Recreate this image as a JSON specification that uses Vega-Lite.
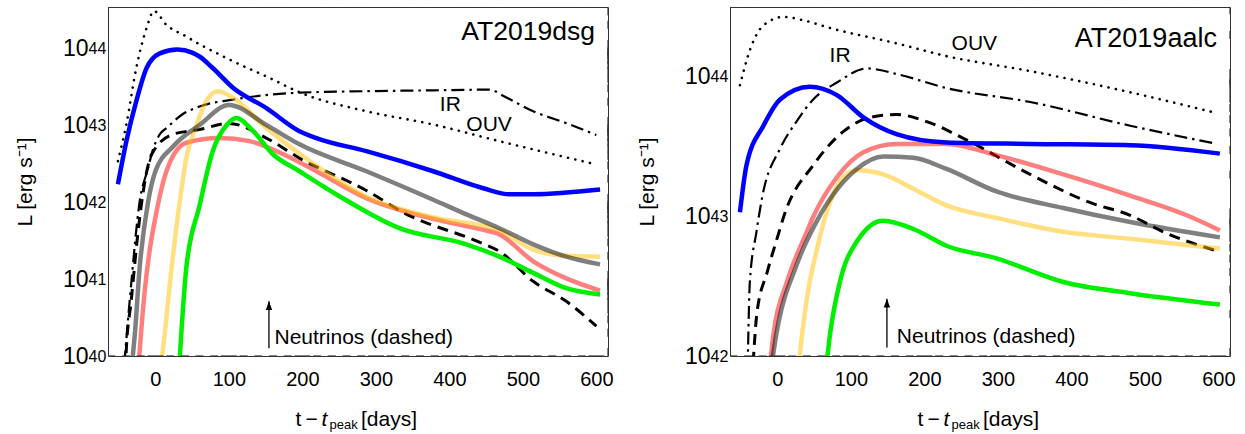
{
  "$schema": "https://vega.github.io/schema/vega-lite/v6.json",
  "padding": {"left": 13, "top": 6, "right": 5, "bottom": 0},
  "bounds": "flush",
  "spacing": 122,
  "config": {
    "view": {"stroke": "#333", "strokeWidth": 1},
    "font": "Liberation Sans",
    "axis": {"labelColor": "#000", "titleColor": "#000", "labelFont": "Liberation Sans", "titleFont": "Liberation Sans", "grid": false, "domain": false}
  },
  "datasets": {
    "dsg": [
      {"c": "OUV", "t": -51, "L": 3.39e42}, {"c": "OUV", "t": -39.5, "L": 1.02e43}, {"c": "OUV", "t": -26, "L": 5.5e43}, {"c": "OUV", "t": -12, "L": 1.82e44}, {"c": "OUV", "t": -2, "L": 3.02e44}, {"c": "OUV", "t": 15, "L": 2.0e44}, {"c": "OUV", "t": 42, "L": 1.41e44}, {"c": "OUV", "t": 60, "L": 1.12e44}, {"c": "OUV", "t": 80, "L": 8.91e43}, {"c": "OUV", "t": 105, "L": 6.76e43}, {"c": "OUV", "t": 151, "L": 4.27e43}, {"c": "OUV", "t": 200, "L": 2.57e43}, {"c": "OUV", "t": 287, "L": 1.51e43}, {"c": "OUV", "t": 377, "L": 1.02e43}, {"c": "OUV", "t": 468, "L": 6.17e42}, {"c": "OUV", "t": 599, "L": 3.09e42},
      {"c": "IR", "t": -42.3, "L": 7.94e39}, {"c": "IR", "t": -33, "L": 8.51e40}, {"c": "IR", "t": -21.5, "L": 1.0e42}, {"c": "IR", "t": -10, "L": 2.75e42}, {"c": "IR", "t": -4, "L": 4.57e42}, {"c": "IR", "t": 6, "L": 7.59e42}, {"c": "IR", "t": 15, "L": 9.12e42}, {"c": "IR", "t": 37, "L": 1.38e43}, {"c": "IR", "t": 60, "L": 1.74e43}, {"c": "IR", "t": 106, "L": 2.14e43}, {"c": "IR", "t": 196, "L": 2.63e43}, {"c": "IR", "t": 287, "L": 2.75e43}, {"c": "IR", "t": 378, "L": 2.82e43}, {"c": "IR", "t": 455, "L": 2.88e43}, {"c": "IR", "t": 475, "L": 2.34e43}, {"c": "IR", "t": 514, "L": 1.51e43}, {"c": "IR", "t": 560, "L": 1.05e43}, {"c": "IR", "t": 600, "L": 7.41e42},
      {"c": "nu", "t": -41, "L": 6.31e39}, {"c": "nu", "t": -39.5, "L": 1.26e40}, {"c": "nu", "t": -33, "L": 5.13e40}, {"c": "nu", "t": -24, "L": 3.8e41}, {"c": "nu", "t": -15, "L": 1.7e42}, {"c": "nu", "t": -5, "L": 4.17e42}, {"c": "nu", "t": 24, "L": 7.59e42}, {"c": "nu", "t": 60, "L": 8.71e42}, {"c": "nu", "t": 100, "L": 1.05e43}, {"c": "nu", "t": 151, "L": 6.76e42}, {"c": "nu", "t": 196, "L": 3.72e42}, {"c": "nu", "t": 287, "L": 1.41e42}, {"c": "nu", "t": 340, "L": 7.08e41}, {"c": "nu", "t": 443, "L": 2.95e41}, {"c": "nu", "t": 468, "L": 2.29e41}, {"c": "nu", "t": 514, "L": 9.33e40}, {"c": "nu", "t": 559, "L": 5.13e40}, {"c": "nu", "t": 600, "L": 2.45e40},
      {"c": "red", "t": -23.5, "L": 6.31e39}, {"c": "red", "t": -15, "L": 6.31e40}, {"c": "red", "t": -8, "L": 2.29e41}, {"c": "red", "t": 0, "L": 6.31e41}, {"c": "red", "t": 15, "L": 2.51e42}, {"c": "red", "t": 42, "L": 5.89e42}, {"c": "red", "t": 87, "L": 6.76e42}, {"c": "red", "t": 128, "L": 6.17e42}, {"c": "red", "t": 174, "L": 4.17e42}, {"c": "red", "t": 219, "L": 2.51e42}, {"c": "red", "t": 287, "L": 1.12e42}, {"c": "red", "t": 378, "L": 6.03e41}, {"c": "red", "t": 440, "L": 4.47e41}, {"c": "red", "t": 468, "L": 3.8e41}, {"c": "red", "t": 514, "L": 1.7e41}, {"c": "red", "t": 559, "L": 1.02e41}, {"c": "red", "t": 605, "L": 7.08e40},
      {"c": "orange", "t": 6.5, "L": 6.31e39}, {"c": "orange", "t": 10, "L": 1.15e40}, {"c": "orange", "t": 22, "L": 1.38e41}, {"c": "orange", "t": 33, "L": 1.0e42}, {"c": "orange", "t": 42, "L": 3.72e42}, {"c": "orange", "t": 56, "L": 1.0e43}, {"c": "orange", "t": 69, "L": 2.04e43}, {"c": "orange", "t": 85, "L": 2.75e43}, {"c": "orange", "t": 106, "L": 2.24e43}, {"c": "orange", "t": 151, "L": 9.12e42}, {"c": "orange", "t": 200, "L": 3.98e42}, {"c": "orange", "t": 287, "L": 1.17e42}, {"c": "orange", "t": 378, "L": 6.31e41}, {"c": "orange", "t": 468, "L": 4.27e41}, {"c": "orange", "t": 514, "L": 2.4e41}, {"c": "orange", "t": 559, "L": 2.0e41}, {"c": "orange", "t": 605, "L": 1.95e41},
      {"c": "gray", "t": -33, "L": 6.31e39}, {"c": "gray", "t": -28, "L": 1.91e40}, {"c": "gray", "t": -21.5, "L": 1.38e41}, {"c": "gray", "t": -10, "L": 1.0e42}, {"c": "gray", "t": 0, "L": 2.51e42}, {"c": "gray", "t": 24, "L": 5.25e42}, {"c": "gray", "t": 60, "L": 1.0e43}, {"c": "gray", "t": 100, "L": 1.82e43}, {"c": "gray", "t": 151, "L": 1.0e43}, {"c": "gray", "t": 196, "L": 5.62e42}, {"c": "gray", "t": 287, "L": 2.51e42}, {"c": "gray", "t": 378, "L": 1.07e42}, {"c": "gray", "t": 423, "L": 6.92e41}, {"c": "gray", "t": 468, "L": 4.57e41}, {"c": "gray", "t": 514, "L": 2.82e41}, {"c": "gray", "t": 559, "L": 1.95e41}, {"c": "gray", "t": 605, "L": 1.55e41},
      {"c": "green", "t": 32, "L": 6.31e39}, {"c": "green", "t": 42, "L": 1.38e41}, {"c": "green", "t": 60, "L": 8.91e41}, {"c": "green", "t": 78, "L": 4.57e42}, {"c": "green", "t": 97, "L": 1.0e43}, {"c": "green", "t": 110, "L": 1.23e43}, {"c": "green", "t": 133, "L": 8.32e42}, {"c": "green", "t": 160, "L": 4.17e42}, {"c": "green", "t": 196, "L": 2.51e42}, {"c": "green", "t": 255, "L": 1.12e42}, {"c": "green", "t": 332, "L": 4.57e41}, {"c": "green", "t": 423, "L": 2.82e41}, {"c": "green", "t": 468, "L": 1.95e41}, {"c": "green", "t": 514, "L": 1.2e41}, {"c": "green", "t": 559, "L": 7.59e40}, {"c": "green", "t": 605, "L": 6.31e40},
      {"c": "blue", "t": -51, "L": 1.7e42}, {"c": "blue", "t": -39.5, "L": 6.17e42}, {"c": "blue", "t": -26, "L": 2.04e43}, {"c": "blue", "t": -12, "L": 5.5e43}, {"c": "blue", "t": 6, "L": 8.51e43}, {"c": "blue", "t": 30, "L": 9.55e43}, {"c": "blue", "t": 50, "L": 8.71e43}, {"c": "blue", "t": 60, "L": 7.76e43}, {"c": "blue", "t": 78, "L": 5.5e43}, {"c": "blue", "t": 106, "L": 3.02e43}, {"c": "blue", "t": 151, "L": 1.66e43}, {"c": "blue", "t": 196, "L": 8.32e42}, {"c": "blue", "t": 219, "L": 6.76e42}, {"c": "blue", "t": 287, "L": 4.57e42}, {"c": "blue", "t": 378, "L": 2.51e42}, {"c": "blue", "t": 446, "L": 1.51e42}, {"c": "blue", "t": 482, "L": 1.26e42}, {"c": "blue", "t": 514, "L": 1.26e42}, {"c": "blue", "t": 605, "L": 1.45e42}
    ],
    "aalc": [
      {"c": "OUV", "t": -51, "L": 8.71e43}, {"c": "OUV", "t": -37, "L": 1.58e44}, {"c": "OUV", "t": -19, "L": 2.34e44}, {"c": "OUV", "t": 8, "L": 2.69e44}, {"c": "OUV", "t": 40, "L": 2.51e44}, {"c": "OUV", "t": 72, "L": 2.24e44}, {"c": "OUV", "t": 162, "L": 1.74e44}, {"c": "OUV", "t": 230, "L": 1.41e44}, {"c": "OUV", "t": 344, "L": 1.1e44}, {"c": "OUV", "t": 480, "L": 7.76e43}, {"c": "OUV", "t": 598, "L": 5.5e43},
      {"c": "IR", "t": -40.5, "L": 7.94e41}, {"c": "IR", "t": -37.5, "L": 3.39e42}, {"c": "IR", "t": -28.5, "L": 7.76e42}, {"c": "IR", "t": -21, "L": 1.35e43}, {"c": "IR", "t": 4, "L": 3.09e43}, {"c": "IR", "t": 26, "L": 4.79e43}, {"c": "IR", "t": 49, "L": 6.92e43}, {"c": "IR", "t": 81, "L": 9.12e43}, {"c": "IR", "t": 122, "L": 1.15e44}, {"c": "IR", "t": 162, "L": 1.05e44}, {"c": "IR", "t": 230, "L": 8.32e43}, {"c": "IR", "t": 344, "L": 6.61e43}, {"c": "IR", "t": 480, "L": 4.47e43}, {"c": "IR", "t": 598, "L": 3.31e43},
      {"c": "nu", "t": -33, "L": 8.91e41}, {"c": "nu", "t": -28, "L": 2.0e42}, {"c": "nu", "t": -14, "L": 3.98e42}, {"c": "nu", "t": 0, "L": 7.08e42}, {"c": "nu", "t": 10, "L": 1.05e43}, {"c": "nu", "t": 49, "L": 2.34e43}, {"c": "nu", "t": 90, "L": 4.07e43}, {"c": "nu", "t": 126, "L": 5.13e43}, {"c": "nu", "t": 162, "L": 5.37e43}, {"c": "nu", "t": 208, "L": 4.68e43}, {"c": "nu", "t": 253, "L": 3.63e43}, {"c": "nu", "t": 344, "L": 2.0e43}, {"c": "nu", "t": 425, "L": 1.26e43}, {"c": "nu", "t": 480, "L": 1.02e43}, {"c": "nu", "t": 525, "L": 7.76e42}, {"c": "nu", "t": 600, "L": 5.62e42},
      {"c": "red", "t": -11, "L": 7.94e41}, {"c": "red", "t": -5, "L": 1.48e42}, {"c": "red", "t": 13, "L": 3.39e42}, {"c": "red", "t": 40, "L": 7.76e42}, {"c": "red", "t": 49, "L": 1.0e43}, {"c": "red", "t": 81, "L": 1.91e43}, {"c": "red", "t": 117, "L": 2.88e43}, {"c": "red", "t": 162, "L": 3.31e43}, {"c": "red", "t": 230, "L": 3.31e43}, {"c": "red", "t": 298, "L": 2.75e43}, {"c": "red", "t": 389, "L": 2.0e43}, {"c": "red", "t": 480, "L": 1.41e43}, {"c": "red", "t": 557, "L": 1.02e43}, {"c": "red", "t": 602, "L": 7.94e42},
      {"c": "orange", "t": 28, "L": 7.94e41}, {"c": "orange", "t": 40, "L": 2.57e42}, {"c": "orange", "t": 54, "L": 5.89e42}, {"c": "orange", "t": 70, "L": 1.2e43}, {"c": "orange", "t": 85, "L": 1.78e43}, {"c": "orange", "t": 108, "L": 2.14e43}, {"c": "orange", "t": 144, "L": 2.0e43}, {"c": "orange", "t": 185, "L": 1.58e43}, {"c": "orange", "t": 230, "L": 1.2e43}, {"c": "orange", "t": 298, "L": 9.77e42}, {"c": "orange", "t": 389, "L": 7.76e42}, {"c": "orange", "t": 480, "L": 6.92e42}, {"c": "orange", "t": 602, "L": 5.89e42},
      {"c": "gray", "t": -9, "L": 7.94e41}, {"c": "gray", "t": -1, "L": 1.48e42}, {"c": "gray", "t": 26, "L": 4.47e42}, {"c": "gray", "t": 58, "L": 1.02e43}, {"c": "gray", "t": 108, "L": 2.19e43}, {"c": "gray", "t": 144, "L": 2.69e43}, {"c": "gray", "t": 185, "L": 2.63e43}, {"c": "gray", "t": 230, "L": 2.19e43}, {"c": "gray", "t": 298, "L": 1.51e43}, {"c": "gray", "t": 389, "L": 1.15e43}, {"c": "gray", "t": 480, "L": 9.12e42}, {"c": "gray", "t": 602, "L": 7.08e42},
      {"c": "green", "t": 66, "L": 7.94e41}, {"c": "green", "t": 72, "L": 1.48e42}, {"c": "green", "t": 85, "L": 3.39e42}, {"c": "green", "t": 108, "L": 6.61e42}, {"c": "green", "t": 144, "L": 9.33e42}, {"c": "green", "t": 185, "L": 8.13e42}, {"c": "green", "t": 230, "L": 6.17e42}, {"c": "green", "t": 298, "L": 5.01e42}, {"c": "green", "t": 389, "L": 3.39e42}, {"c": "green", "t": 480, "L": 2.82e42}, {"c": "green", "t": 602, "L": 2.34e42},
      {"c": "blue", "t": -51, "L": 1.07e43}, {"c": "blue", "t": -42, "L": 2.34e43}, {"c": "blue", "t": -19, "L": 4.47e43}, {"c": "blue", "t": 4, "L": 6.92e43}, {"c": "blue", "t": 44, "L": 8.51e43}, {"c": "blue", "t": 81, "L": 7.41e43}, {"c": "blue", "t": 117, "L": 5.13e43}, {"c": "blue", "t": 162, "L": 3.89e43}, {"c": "blue", "t": 230, "L": 3.39e43}, {"c": "blue", "t": 344, "L": 3.31e43}, {"c": "blue", "t": 480, "L": 3.24e43}, {"c": "blue", "t": 602, "L": 2.82e43}
    ],
    "dsgNotes": [
      {"k": "curve", "txt": "IR", "t": 387, "L": 1.51e43},
      {"k": "curve", "txt": "OUV", "t": 423, "L": 8.32e42},
      {"k": "name", "txt": "AT2019dsg", "t": 598, "L": 1.29e44},
      {"k": "nu", "txt": "Neutrinos (dashed)", "t": 162, "L": 1.42e40}
    ],
    "dsgArrow": [{"t": 154.5, "lo": 1.26e40, "hi": 5.13e40}],
    "aalcNotes": [
      {"k": "curve", "txt": "IR", "t": 71, "L": 1.28e44},
      {"k": "curve", "txt": "OUV", "t": 237, "L": 1.55e44},
      {"k": "name", "txt": "AT2019aalc", "t": 598, "L": 1.64e44},
      {"k": "nu", "txt": "Neutrinos (dashed)", "t": 162.5, "L": 1.23e42}
    ],
    "aalcArrow": [{"t": 149, "lo": 1.15e42, "hi": 2.57e42}],
    "tTicks": [
      {"v": -60, "major": false}, {"v": -40, "major": false}, {"v": -20, "major": false}, {"v": 0, "major": true}, {"v": 20, "major": false}, {"v": 40, "major": false}, {"v": 60, "major": false}, {"v": 80, "major": false},
      {"v": 100, "major": true}, {"v": 120, "major": false}, {"v": 140, "major": false}, {"v": 160, "major": false}, {"v": 180, "major": false},
      {"v": 200, "major": true}, {"v": 220, "major": false}, {"v": 240, "major": false}, {"v": 260, "major": false}, {"v": 280, "major": false},
      {"v": 300, "major": true}, {"v": 320, "major": false}, {"v": 340, "major": false}, {"v": 360, "major": false}, {"v": 380, "major": false},
      {"v": 400, "major": true}, {"v": 420, "major": false}, {"v": 440, "major": false}, {"v": 460, "major": false}, {"v": 480, "major": false},
      {"v": 500, "major": true}, {"v": 520, "major": false}, {"v": 540, "major": false}, {"v": 560, "major": false}, {"v": 580, "major": false},
      {"v": 600, "major": true}
    ],
    "dsgLTicks": [
      {"v": 1e40, "major": true}, {"v": 2e40, "major": false}, {"v": 3e40, "major": false}, {"v": 4e40, "major": false}, {"v": 5e40, "major": false}, {"v": 6e40, "major": false}, {"v": 7e40, "major": false}, {"v": 8e40, "major": false}, {"v": 9e40, "major": false},
      {"v": 1e41, "major": true}, {"v": 2e41, "major": false}, {"v": 3e41, "major": false}, {"v": 4e41, "major": false}, {"v": 5e41, "major": false}, {"v": 6e41, "major": false}, {"v": 7e41, "major": false}, {"v": 8e41, "major": false}, {"v": 9e41, "major": false},
      {"v": 1e42, "major": true}, {"v": 2e42, "major": false}, {"v": 3e42, "major": false}, {"v": 4e42, "major": false}, {"v": 5e42, "major": false}, {"v": 6e42, "major": false}, {"v": 7e42, "major": false}, {"v": 8e42, "major": false}, {"v": 9e42, "major": false},
      {"v": 1e43, "major": true}, {"v": 2e43, "major": false}, {"v": 3e43, "major": false}, {"v": 4e43, "major": false}, {"v": 5e43, "major": false}, {"v": 6e43, "major": false}, {"v": 7e43, "major": false}, {"v": 8e43, "major": false}, {"v": 9e43, "major": false},
      {"v": 1e44, "major": true}, {"v": 2e44, "major": false}, {"v": 3e44, "major": false}
    ],
    "aalcLTicks": [
      {"v": 1e42, "major": true}, {"v": 2e42, "major": false}, {"v": 3e42, "major": false}, {"v": 4e42, "major": false}, {"v": 5e42, "major": false}, {"v": 6e42, "major": false}, {"v": 7e42, "major": false}, {"v": 8e42, "major": false}, {"v": 9e42, "major": false},
      {"v": 1e43, "major": true}, {"v": 2e43, "major": false}, {"v": 3e43, "major": false}, {"v": 4e43, "major": false}, {"v": 5e43, "major": false}, {"v": 6e43, "major": false}, {"v": 7e43, "major": false}, {"v": 8e43, "major": false}, {"v": 9e43, "major": false},
      {"v": 1e44, "major": true}, {"v": 2e44, "major": false}, {"v": 3e44, "major": false}
    ]
  },
  "hconcat": [
    {
      "width": 500, "height": 349,
      "view": {"stroke": "#333", "strokeWidth": 1},
      "data": {"name": "dsg"},
      "resolve": {"axis": {"x": "independent", "y": "independent"}},
      "layer": [
        {
          "transform": [{"filter": "datum.c === 'OUV'"}],
          "mark": {"type": "line", "clip": true, "color": "#000", "strokeWidth": 2.6, "strokeDash": [0.1, 7.4], "strokeCap": "round", "interpolate": "monotone"},
          "encoding": {
            "x": {"field": "t", "type": "quantitative", "scale": {"domain": [-64.5, 615.8], "nice": false, "zero": false},
              "axis": {"orient": "bottom", "values": [0, 100, 200, 300, 400, 500, 600], "ticks": false, "labelFontSize": 20, "labelPadding": 13, "labelFlush": false, "labelOverlap": false, "title": "t\u2009−", "titleX": 187, "titleY": 69, "titleAlign": "left", "titleBaseline": "alphabetic", "titleFontSize": 21, "titleFontWeight": "normal"}},
            "y": {"field": "L", "type": "quantitative", "scale": {"type": "log", "domain": [1e40, 3.41e44], "nice": false},
              "axis": {"orient": "left", "values": [1e40, 1e41, 1e42, 1e43, 1e44], "ticks": false, "labelExpr": "'10'", "labelFontSize": 23, "labelPadding": 20, "labelDy": 4, "labelFlush": false, "labelOverlap": false, "title": "L [erg s⁻¹]", "titleX": -77, "titleY": 174.5, "titleAngle": 270, "titleAlign": "center", "titleBaseline": "alphabetic", "titleFontSize": 21, "titleFontWeight": "normal"}}
          }
        },
        {
          "transform": [{"filter": "datum.c === 'IR'"}],
          "mark": {"type": "line", "clip": true, "color": "#000", "strokeWidth": 2.2, "strokeDash": [13, 5, 2.5, 5], "interpolate": "monotone"},
          "encoding": {
            "x": {"field": "t", "type": "quantitative", "scale": {"domain": [-64.5, 615.8], "nice": false, "zero": false}, "axis": null},
            "y": {"field": "L", "type": "quantitative", "scale": {"type": "log", "domain": [1e40, 3.41e44], "nice": false}, "axis": null}
          }
        },
        {
          "transform": [{"filter": "datum.c === 'nu'"}],
          "mark": {"type": "line", "clip": true, "color": "#000", "strokeWidth": 3, "strokeDash": [11, 7], "interpolate": "monotone"},
          "encoding": {
            "x": {"field": "t", "type": "quantitative", "scale": {"domain": [-64.5, 615.8], "nice": false, "zero": false}, "axis": null},
            "y": {"field": "L", "type": "quantitative", "scale": {"type": "log", "domain": [1e40, 3.41e44], "nice": false}, "axis": null}
          }
        },
        {
          "transform": [{"filter": "datum.c === 'red'"}],
          "mark": {"type": "line", "clip": true, "color": "#ff0000", "opacity": 0.5, "strokeWidth": 4.5, "strokeJoin": "round", "interpolate": "monotone"},
          "encoding": {
            "x": {"field": "t", "type": "quantitative", "scale": {"domain": [-64.5, 615.8], "nice": false, "zero": false},
              "axis": {"orient": "bottom", "ticks": false, "labels": false, "title": "[days]", "titleX": 252.5, "titleY": 69, "titleAlign": "left", "titleBaseline": "alphabetic", "titleFontSize": 21, "titleFontWeight": "normal"}},
            "y": {"field": "L", "type": "quantitative", "scale": {"type": "log", "domain": [1e40, 3.41e44], "nice": false},
              "axis": {"orient": "left", "values": [1e40, 1e41, 1e42, 1e43, 1e44], "ticks": false, "labelExpr": "'' + round(log(datum.value)/LN10)", "labelAlign": "left", "labelPadding": 20, "labelFontSize": 16, "labelDy": -3, "labelFlush": false, "labelOverlap": false, "title": null}}
          }
        },
        {
          "transform": [{"filter": "datum.c === 'orange'"}],
          "mark": {"type": "line", "clip": true, "color": "#ffbf00", "opacity": 0.5, "strokeWidth": 4.5, "strokeJoin": "round", "interpolate": "monotone"},
          "encoding": {
            "x": {"field": "t", "type": "quantitative", "scale": {"domain": [-64.5, 615.8], "nice": false, "zero": false}, "axis": null},
            "y": {"field": "L", "type": "quantitative", "scale": {"type": "log", "domain": [1e40, 3.41e44], "nice": false}, "axis": null}
          }
        },
        {
          "transform": [{"filter": "datum.c === 'gray'"}],
          "mark": {"type": "line", "clip": true, "color": "#000", "opacity": 0.5, "strokeWidth": 4.5, "strokeJoin": "round", "interpolate": "monotone"},
          "encoding": {
            "x": {"field": "t", "type": "quantitative", "scale": {"domain": [-64.5, 615.8], "nice": false, "zero": false}, "axis": null},
            "y": {"field": "L", "type": "quantitative", "scale": {"type": "log", "domain": [1e40, 3.41e44], "nice": false}, "axis": null}
          }
        },
        {
          "transform": [{"filter": "datum.c === 'green'"}],
          "mark": {"type": "line", "clip": true, "color": "#00ee00", "strokeWidth": 4.5, "strokeJoin": "round", "interpolate": "monotone"},
          "encoding": {
            "x": {"field": "t", "type": "quantitative", "scale": {"domain": [-64.5, 615.8], "nice": false, "zero": false}, "axis": null},
            "y": {"field": "L", "type": "quantitative", "scale": {"type": "log", "domain": [1e40, 3.41e44], "nice": false}, "axis": null}
          }
        },
        {
          "transform": [{"filter": "datum.c === 'blue'"}],
          "mark": {"type": "line", "clip": true, "color": "#0000ff", "strokeWidth": 4.5, "strokeJoin": "round", "interpolate": "monotone"},
          "encoding": {
            "x": {"field": "t", "type": "quantitative", "scale": {"domain": [-64.5, 615.8], "nice": false, "zero": false}, "axis": null},
            "y": {"field": "L", "type": "quantitative", "scale": {"type": "log", "domain": [1e40, 3.41e44], "nice": false}, "axis": null}
          }
        },
        {
          "data": {"name": "dsgNotes"},
          "transform": [{"filter": "datum.k !== 'name'"}],
          "mark": {"type": "text", "align": "left", "baseline": "alphabetic", "fontSize": 21, "color": "#000"},
          "encoding": {
            "x": {"field": "t", "type": "quantitative", "scale": {"domain": [-64.5, 615.8], "nice": false, "zero": false},
              "axis": {"orient": "bottom", "ticks": false, "labels": false, "title": "t", "titleFontStyle": "italic", "titleX": 213, "titleY": 69, "titleAlign": "left", "titleBaseline": "alphabetic", "titleFontSize": 21, "titleFontWeight": "normal"}},
            "y": {"field": "L", "type": "quantitative", "scale": {"type": "log", "domain": [1e40, 3.41e44], "nice": false}, "axis": null},
            "text": {"field": "txt"}
          }
        },
        {
          "data": {"name": "dsgNotes"},
          "transform": [{"filter": "datum.k === 'name'"}],
          "mark": {"type": "text", "align": "right", "baseline": "alphabetic", "fontSize": 26.5, "color": "#000"},
          "encoding": {
            "x": {"field": "t", "type": "quantitative", "scale": {"domain": [-64.5, 615.8], "nice": false, "zero": false},
              "axis": {"orient": "bottom", "ticks": false, "labels": false, "title": "peak", "titleX": 221, "titleY": 72, "titleAlign": "left", "titleBaseline": "alphabetic", "titleFontSize": 13, "titleFontWeight": "normal"}},
            "y": {"field": "L", "type": "quantitative", "scale": {"type": "log", "domain": [1e40, 3.41e44], "nice": false}, "axis": null},
            "text": {"field": "txt"}
          }
        },
        {
          "data": {"name": "dsgArrow"},
          "mark": {"type": "rule", "color": "#000", "strokeWidth": 1.3},
          "encoding": {
            "x": {"field": "t", "type": "quantitative", "scale": {"domain": [-64.5, 615.8], "nice": false, "zero": false}, "axis": null},
            "y": {"field": "lo", "type": "quantitative", "scale": {"type": "log", "domain": [1e40, 3.41e44], "nice": false}, "axis": null},
            "y2": {"field": "hi"}
          }
        },
        {
          "data": {"name": "dsgArrow"},
          "mark": {"type": "point", "shape": "M0,0L0.8,2.2L-0.8,2.2Z", "size": 64, "filled": true, "color": "#000", "opacity": 1},
          "encoding": {
            "x": {"field": "t", "type": "quantitative", "scale": {"domain": [-64.5, 615.8], "nice": false, "zero": false}, "axis": null},
            "y": {"field": "hi", "type": "quantitative", "scale": {"type": "log", "domain": [1e40, 3.41e44], "nice": false}, "axis": null}
          }
        },
        {
          "data": {"name": "tTicks"},
          "mark": {"type": "tick", "orient": "horizontal", "clip": true, "color": "#333", "thickness": 1.2, "opacity": 1},
          "encoding": {
            "x": {"field": "v", "type": "quantitative", "scale": {"domain": [-64.5, 615.8], "nice": false, "zero": false}, "axis": null},
            "y": {"datum": 1e40, "type": "quantitative", "scale": {"type": "log", "domain": [1e40, 3.41e44], "nice": false}, "axis": null},
            "size": {"condition": {"test": "datum.major", "value": 16}, "value": 8}
          }
        },
        {
          "data": {"name": "tTicks"},
          "mark": {"type": "tick", "orient": "horizontal", "clip": true, "color": "#333", "thickness": 1.2, "opacity": 1},
          "encoding": {
            "x": {"field": "v", "type": "quantitative", "scale": {"domain": [-64.5, 615.8], "nice": false, "zero": false}, "axis": null},
            "y": {"datum": 3.41e44, "type": "quantitative", "scale": {"type": "log", "domain": [1e40, 3.41e44], "nice": false}, "axis": null},
            "size": {"condition": {"test": "datum.major", "value": 16}, "value": 8}
          }
        },
        {
          "data": {"name": "dsgLTicks"},
          "mark": {"type": "tick", "orient": "vertical", "clip": true, "color": "#333", "thickness": 1.2, "opacity": 1},
          "encoding": {
            "x": {"datum": -64.5, "type": "quantitative", "scale": {"domain": [-64.5, 615.8], "nice": false, "zero": false}, "axis": null},
            "y": {"field": "v", "type": "quantitative", "scale": {"type": "log", "domain": [1e40, 3.41e44], "nice": false}, "axis": null},
            "size": {"condition": {"test": "datum.major", "value": 16}, "value": 8}
          }
        },
        {
          "data": {"name": "dsgLTicks"},
          "mark": {"type": "tick", "orient": "vertical", "clip": true, "color": "#333", "thickness": 1.2, "opacity": 1},
          "encoding": {
            "x": {"datum": 615.8, "type": "quantitative", "scale": {"domain": [-64.5, 615.8], "nice": false, "zero": false}, "axis": null},
            "y": {"field": "v", "type": "quantitative", "scale": {"type": "log", "domain": [1e40, 3.41e44], "nice": false}, "axis": null},
            "size": {"condition": {"test": "datum.major", "value": 16}, "value": 8}
          }
        }
      ]
    },
    {
      "width": 500, "height": 349,
      "view": {"stroke": "#333", "strokeWidth": 1},
      "data": {"name": "aalc"},
      "resolve": {"axis": {"x": "independent", "y": "independent"}},
      "layer": [
        {
          "transform": [{"filter": "datum.c === 'OUV'"}],
          "mark": {"type": "line", "clip": true, "color": "#000", "strokeWidth": 2.6, "strokeDash": [0.1, 7.4], "strokeCap": "round", "interpolate": "monotone"},
          "encoding": {
            "x": {"field": "t", "type": "quantitative", "scale": {"domain": [-64.5, 615.8], "nice": false, "zero": false},
              "axis": {"orient": "bottom", "values": [0, 100, 200, 300, 400, 500, 600], "ticks": false, "labelFontSize": 20, "labelPadding": 13, "labelFlush": false, "labelOverlap": false, "title": "t\u2009−", "titleX": 187, "titleY": 69, "titleAlign": "left", "titleBaseline": "alphabetic", "titleFontSize": 21, "titleFontWeight": "normal"}},
            "y": {"field": "L", "type": "quantitative", "scale": {"type": "log", "domain": [1e42, 3.17e44], "nice": false},
              "axis": {"orient": "left", "values": [1e42, 1e43, 1e44], "ticks": false, "labelExpr": "'10'", "labelFontSize": 23, "labelPadding": 20, "labelDy": 4, "labelFlush": false, "labelOverlap": false, "title": "L [erg s⁻¹]", "titleX": -77, "titleY": 174.5, "titleAngle": 270, "titleAlign": "center", "titleBaseline": "alphabetic", "titleFontSize": 21, "titleFontWeight": "normal"}}
          }
        },
        {
          "transform": [{"filter": "datum.c === 'IR'"}],
          "mark": {"type": "line", "clip": true, "color": "#000", "strokeWidth": 2.2, "strokeDash": [13, 5, 2.5, 5], "interpolate": "monotone"},
          "encoding": {
            "x": {"field": "t", "type": "quantitative", "scale": {"domain": [-64.5, 615.8], "nice": false, "zero": false}, "axis": null},
            "y": {"field": "L", "type": "quantitative", "scale": {"type": "log", "domain": [1e42, 3.17e44], "nice": false}, "axis": null}
          }
        },
        {
          "transform": [{"filter": "datum.c === 'nu'"}],
          "mark": {"type": "line", "clip": true, "color": "#000", "strokeWidth": 3, "strokeDash": [11, 7], "interpolate": "monotone"},
          "encoding": {
            "x": {"field": "t", "type": "quantitative", "scale": {"domain": [-64.5, 615.8], "nice": false, "zero": false}, "axis": null},
            "y": {"field": "L", "type": "quantitative", "scale": {"type": "log", "domain": [1e42, 3.17e44], "nice": false}, "axis": null}
          }
        },
        {
          "transform": [{"filter": "datum.c === 'red'"}],
          "mark": {"type": "line", "clip": true, "color": "#ff0000", "opacity": 0.5, "strokeWidth": 4.5, "strokeJoin": "round", "interpolate": "monotone"},
          "encoding": {
            "x": {"field": "t", "type": "quantitative", "scale": {"domain": [-64.5, 615.8], "nice": false, "zero": false},
              "axis": {"orient": "bottom", "ticks": false, "labels": false, "title": "[days]", "titleX": 252.5, "titleY": 69, "titleAlign": "left", "titleBaseline": "alphabetic", "titleFontSize": 21, "titleFontWeight": "normal"}},
            "y": {"field": "L", "type": "quantitative", "scale": {"type": "log", "domain": [1e42, 3.17e44], "nice": false},
              "axis": {"orient": "left", "values": [1e42, 1e43, 1e44], "ticks": false, "labelExpr": "'' + round(log(datum.value)/LN10)", "labelAlign": "left", "labelPadding": 20, "labelFontSize": 16, "labelDy": -3, "labelFlush": false, "labelOverlap": false, "title": null}}
          }
        },
        {
          "transform": [{"filter": "datum.c === 'orange'"}],
          "mark": {"type": "line", "clip": true, "color": "#ffbf00", "opacity": 0.5, "strokeWidth": 4.5, "strokeJoin": "round", "interpolate": "monotone"},
          "encoding": {
            "x": {"field": "t", "type": "quantitative", "scale": {"domain": [-64.5, 615.8], "nice": false, "zero": false}, "axis": null},
            "y": {"field": "L", "type": "quantitative", "scale": {"type": "log", "domain": [1e42, 3.17e44], "nice": false}, "axis": null}
          }
        },
        {
          "transform": [{"filter": "datum.c === 'gray'"}],
          "mark": {"type": "line", "clip": true, "color": "#000", "opacity": 0.5, "strokeWidth": 4.5, "strokeJoin": "round", "interpolate": "monotone"},
          "encoding": {
            "x": {"field": "t", "type": "quantitative", "scale": {"domain": [-64.5, 615.8], "nice": false, "zero": false}, "axis": null},
            "y": {"field": "L", "type": "quantitative", "scale": {"type": "log", "domain": [1e42, 3.17e44], "nice": false}, "axis": null}
          }
        },
        {
          "transform": [{"filter": "datum.c === 'green'"}],
          "mark": {"type": "line", "clip": true, "color": "#00ee00", "strokeWidth": 4.5, "strokeJoin": "round", "interpolate": "monotone"},
          "encoding": {
            "x": {"field": "t", "type": "quantitative", "scale": {"domain": [-64.5, 615.8], "nice": false, "zero": false}, "axis": null},
            "y": {"field": "L", "type": "quantitative", "scale": {"type": "log", "domain": [1e42, 3.17e44], "nice": false}, "axis": null}
          }
        },
        {
          "transform": [{"filter": "datum.c === 'blue'"}],
          "mark": {"type": "line", "clip": true, "color": "#0000ff", "strokeWidth": 4.5, "strokeJoin": "round", "interpolate": "monotone"},
          "encoding": {
            "x": {"field": "t", "type": "quantitative", "scale": {"domain": [-64.5, 615.8], "nice": false, "zero": false}, "axis": null},
            "y": {"field": "L", "type": "quantitative", "scale": {"type": "log", "domain": [1e42, 3.17e44], "nice": false}, "axis": null}
          }
        },
        {
          "data": {"name": "aalcNotes"},
          "transform": [{"filter": "datum.k !== 'name'"}],
          "mark": {"type": "text", "align": "left", "baseline": "alphabetic", "fontSize": 21, "color": "#000"},
          "encoding": {
            "x": {"field": "t", "type": "quantitative", "scale": {"domain": [-64.5, 615.8], "nice": false, "zero": false},
              "axis": {"orient": "bottom", "ticks": false, "labels": false, "title": "t", "titleFontStyle": "italic", "titleX": 213, "titleY": 69, "titleAlign": "left", "titleBaseline": "alphabetic", "titleFontSize": 21, "titleFontWeight": "normal"}},
            "y": {"field": "L", "type": "quantitative", "scale": {"type": "log", "domain": [1e42, 3.17e44], "nice": false}, "axis": null},
            "text": {"field": "txt"}
          }
        },
        {
          "data": {"name": "aalcNotes"},
          "transform": [{"filter": "datum.k === 'name'"}],
          "mark": {"type": "text", "align": "right", "baseline": "alphabetic", "fontSize": 27, "color": "#000"},
          "encoding": {
            "x": {"field": "t", "type": "quantitative", "scale": {"domain": [-64.5, 615.8], "nice": false, "zero": false},
              "axis": {"orient": "bottom", "ticks": false, "labels": false, "title": "peak", "titleX": 221, "titleY": 72, "titleAlign": "left", "titleBaseline": "alphabetic", "titleFontSize": 13, "titleFontWeight": "normal"}},
            "y": {"field": "L", "type": "quantitative", "scale": {"type": "log", "domain": [1e42, 3.17e44], "nice": false}, "axis": null},
            "text": {"field": "txt"}
          }
        },
        {
          "data": {"name": "aalcArrow"},
          "mark": {"type": "rule", "color": "#000", "strokeWidth": 1.3},
          "encoding": {
            "x": {"field": "t", "type": "quantitative", "scale": {"domain": [-64.5, 615.8], "nice": false, "zero": false}, "axis": null},
            "y": {"field": "lo", "type": "quantitative", "scale": {"type": "log", "domain": [1e42, 3.17e44], "nice": false}, "axis": null},
            "y2": {"field": "hi"}
          }
        },
        {
          "data": {"name": "aalcArrow"},
          "mark": {"type": "point", "shape": "M0,0L0.8,2.2L-0.8,2.2Z", "size": 64, "filled": true, "color": "#000", "opacity": 1},
          "encoding": {
            "x": {"field": "t", "type": "quantitative", "scale": {"domain": [-64.5, 615.8], "nice": false, "zero": false}, "axis": null},
            "y": {"field": "hi", "type": "quantitative", "scale": {"type": "log", "domain": [1e42, 3.17e44], "nice": false}, "axis": null}
          }
        },
        {
          "data": {"name": "tTicks"},
          "mark": {"type": "tick", "orient": "horizontal", "clip": true, "color": "#333", "thickness": 1.2, "opacity": 1},
          "encoding": {
            "x": {"field": "v", "type": "quantitative", "scale": {"domain": [-64.5, 615.8], "nice": false, "zero": false}, "axis": null},
            "y": {"datum": 1e42, "type": "quantitative", "scale": {"type": "log", "domain": [1e42, 3.17e44], "nice": false}, "axis": null},
            "size": {"condition": {"test": "datum.major", "value": 16}, "value": 8}
          }
        },
        {
          "data": {"name": "tTicks"},
          "mark": {"type": "tick", "orient": "horizontal", "clip": true, "color": "#333", "thickness": 1.2, "opacity": 1},
          "encoding": {
            "x": {"field": "v", "type": "quantitative", "scale": {"domain": [-64.5, 615.8], "nice": false, "zero": false}, "axis": null},
            "y": {"datum": 3.17e44, "type": "quantitative", "scale": {"type": "log", "domain": [1e42, 3.17e44], "nice": false}, "axis": null},
            "size": {"condition": {"test": "datum.major", "value": 16}, "value": 8}
          }
        },
        {
          "data": {"name": "aalcLTicks"},
          "mark": {"type": "tick", "orient": "vertical", "clip": true, "color": "#333", "thickness": 1.2, "opacity": 1},
          "encoding": {
            "x": {"datum": -64.5, "type": "quantitative", "scale": {"domain": [-64.5, 615.8], "nice": false, "zero": false}, "axis": null},
            "y": {"field": "v", "type": "quantitative", "scale": {"type": "log", "domain": [1e42, 3.17e44], "nice": false}, "axis": null},
            "size": {"condition": {"test": "datum.major", "value": 16}, "value": 8}
          }
        },
        {
          "data": {"name": "aalcLTicks"},
          "mark": {"type": "tick", "orient": "vertical", "clip": true, "color": "#333", "thickness": 1.2, "opacity": 1},
          "encoding": {
            "x": {"datum": 615.8, "type": "quantitative", "scale": {"domain": [-64.5, 615.8], "nice": false, "zero": false}, "axis": null},
            "y": {"field": "v", "type": "quantitative", "scale": {"type": "log", "domain": [1e42, 3.17e44], "nice": false}, "axis": null},
            "size": {"condition": {"test": "datum.major", "value": 16}, "value": 8}
          }
        }
      ]
    }
  ]
}
